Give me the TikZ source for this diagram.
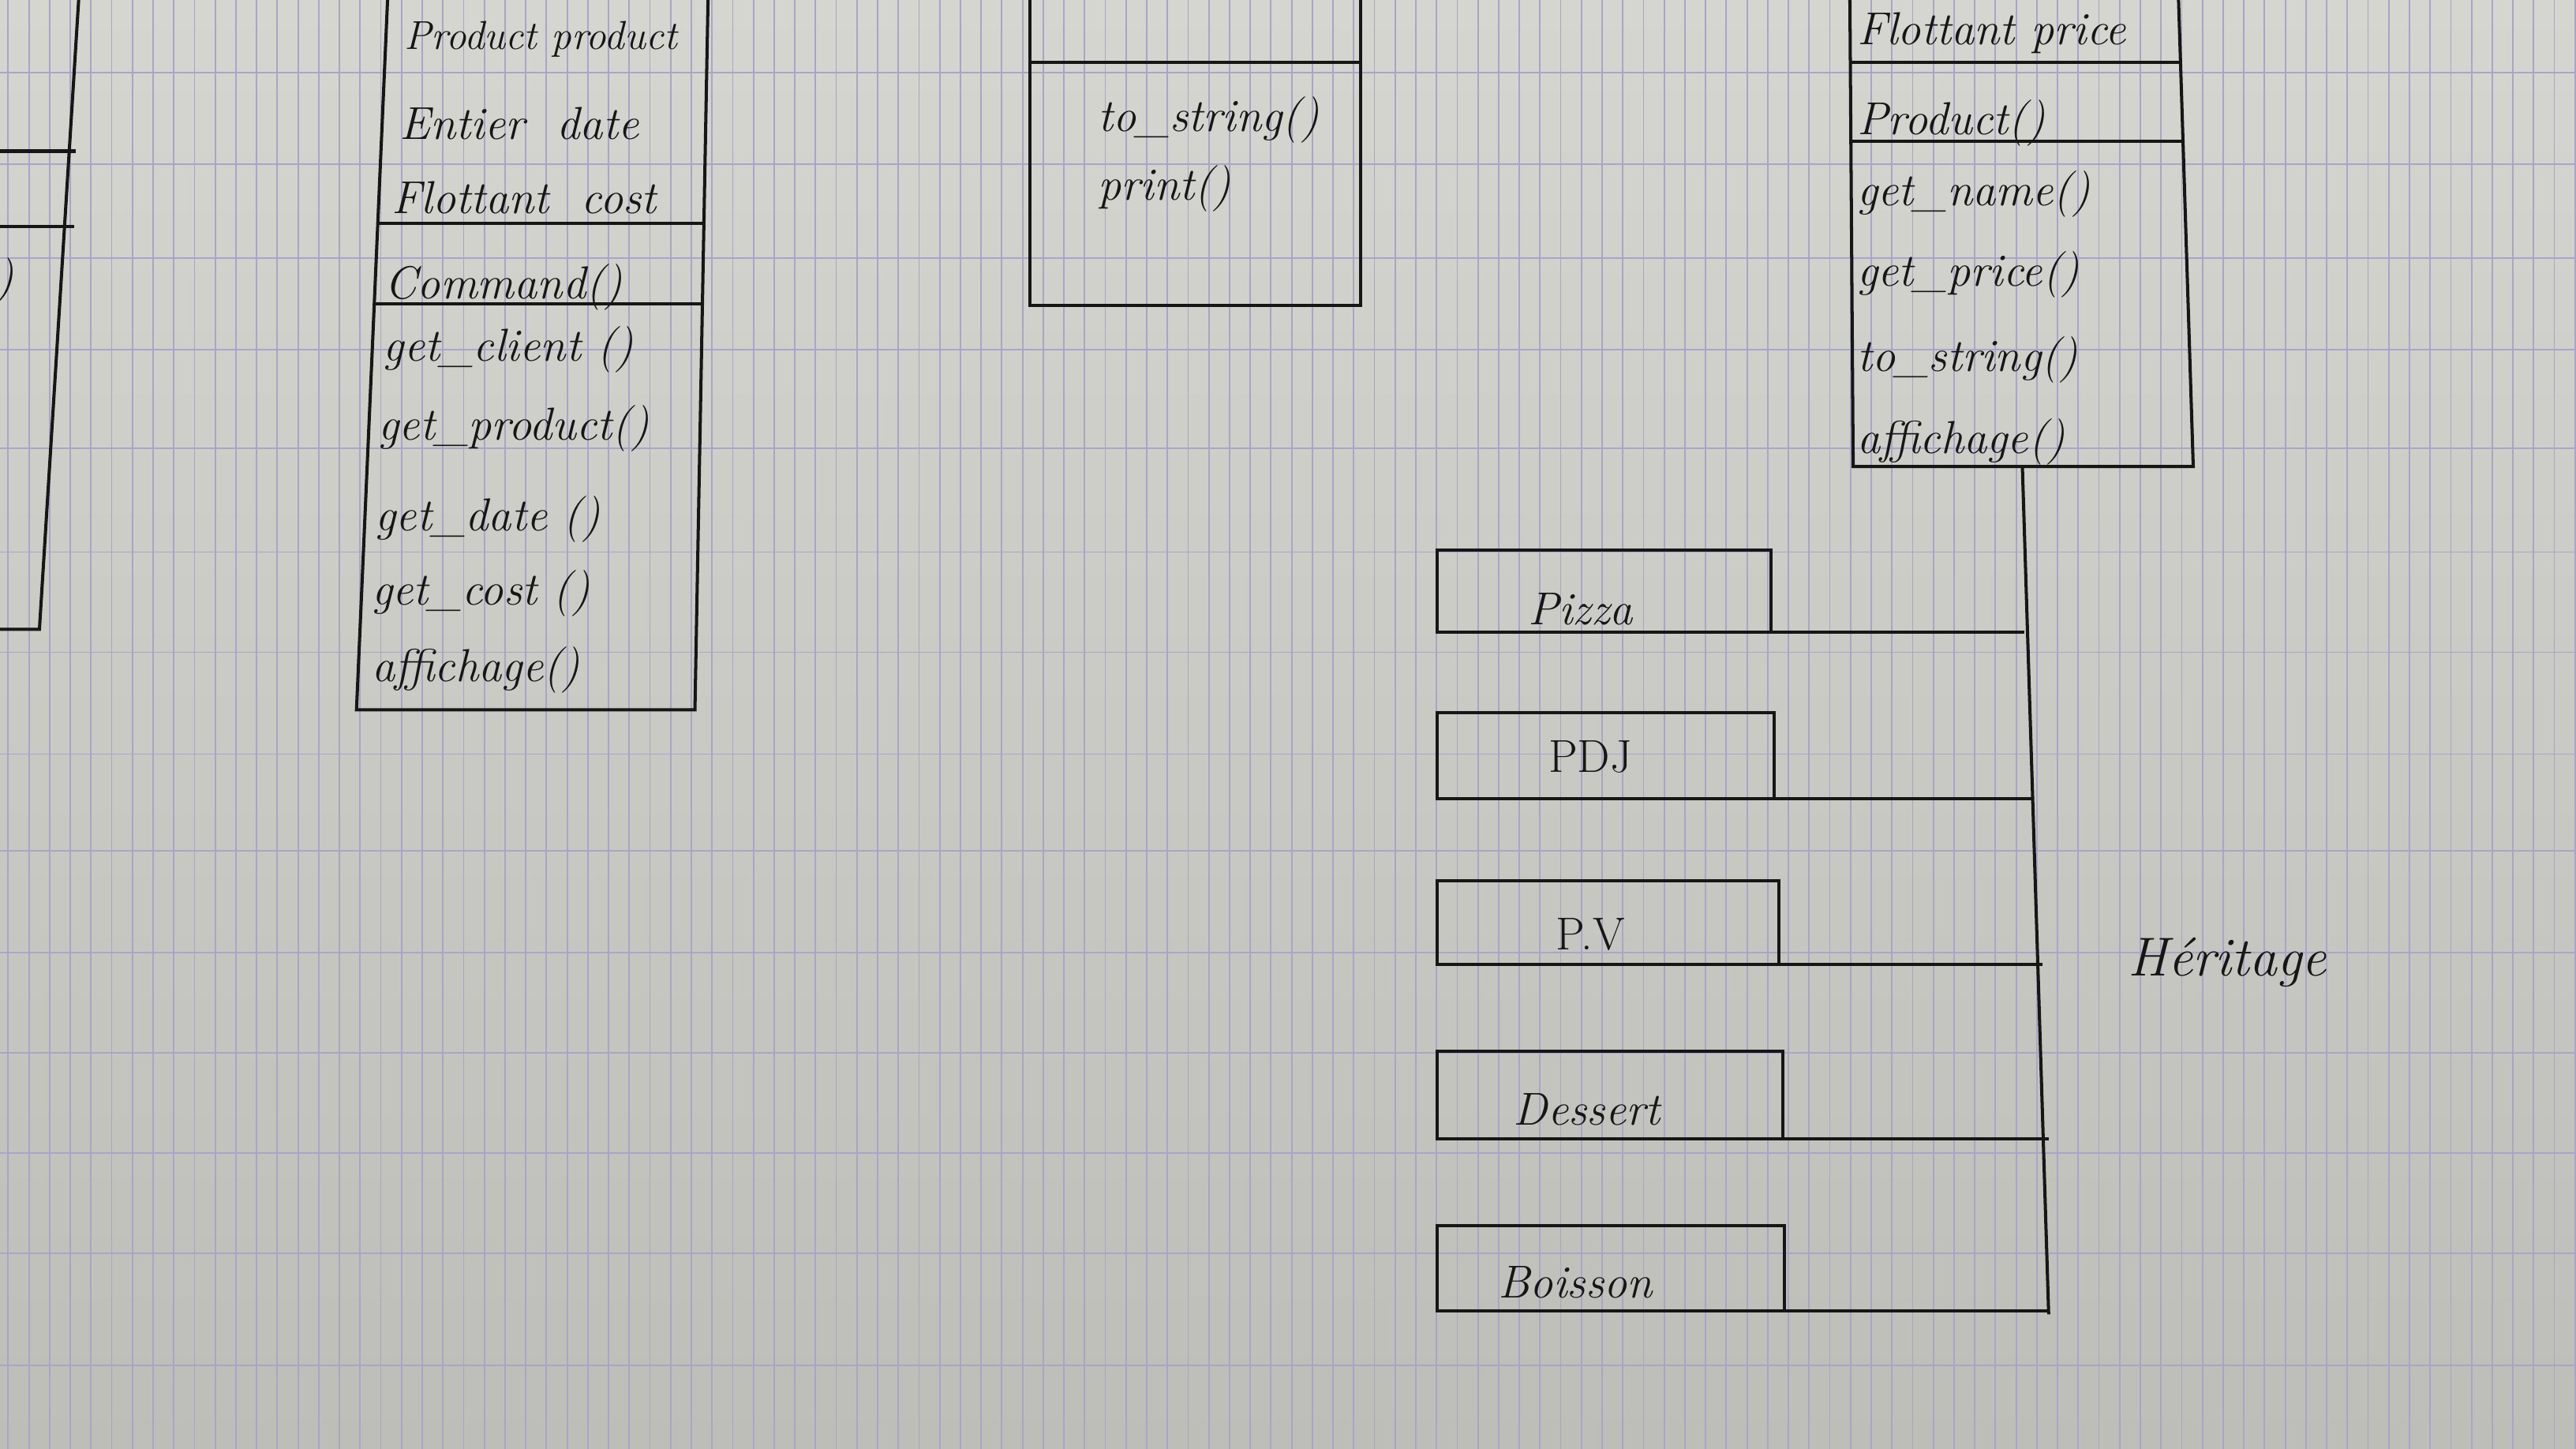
\documentclass[tikz,border=0pt]{standalone}
\usetikzlibrary{calc}
\definecolor{paper}{RGB}{212,214,207}
\definecolor{paperdark}{RGB}{188,190,183}
\definecolor{ruling}{RGB}{168,165,198}
\definecolor{ink}{RGB}{22,22,22}
\tikzset{
  ink/.style={draw=ink,line width=1.1pt},
  ruling line/.style={draw=ruling,line width=0.5pt},
  member/.style={anchor=base west,inner sep=0pt},
  tag/.style={anchor=base,inner sep=0pt}
}
\begin{document}
\begin{tikzpicture}[x=0.02cm,y=-0.02cm,font=\fontsize{16}{19}\selectfont\itshape,text=ink]
  \useasboundingbox (0,0) rectangle (1568,882);
  \shade[top color=paper,bottom color=paperdark] (0,0) rectangle (1568,882);
  % squared paper
  \foreach \x in {5,17.6,...,1568} \draw[ruling line] (\x,0) -- (\x,882);
  \foreach \y in {44,100,157,213,273,336,397,459,518,580,641,702,763,831}
    \draw[ruling line] (0,\y) -- (1568,\y);
  % class cut by the left edge
  \draw[ink] (48,-2) -- (24,383) -- (-2,383);
  \draw[ink] (-2,92) -- (46,92) (-2,138) -- (45,138);
  \node[member] (leftcut) at (-3,178) {)};
  % Command
  \draw[ink] (236,-2) -- (217,432) -- (423,432) -- (431,-2);
  \draw[ink] (230,136) -- (429,136) (228,185) -- (428,185);
  \foreach \t/\x/\y [count=\i] in {{\fontsize{14}{17}\selectfont Product product}/246/30,
      Entier\ \ date/243/85,Flottant\ \ cost/238/130,Command()/234/182,
      get\_client ()/233/220,get\_product()/230/268,get\_date ()/228/323,
      get\_cost ()/226/368,affichage()/226/415}
    \node[member] (cmd\i) at (\x,\y) {\t};
  % middle class
  \draw[ink] (627,-2) -- (627,186) -- (828,186) -- (828,-2);
  \draw[ink] (627,38) -- (828,38);
  \node[member] (mid1) at (668,80) {to\_string()};
  \node[member] (mid2) at (668,122) {print()};
  % Product
  \draw[ink] (1126,-2) -- (1128,284) -- (1335,284) -- (1326,-2);
  \draw[ink] (1126,38) -- (1327,38) (1127,86) -- (1329,86);
  \foreach \t/\y [count=\i] in {Flottant price/27,Product()/82,get\_name()/125,
      get\_price()/174,to\_string()/226,affichage()/276}
    \node[member] (prod\i) at (1130,\y) {\t};
  \coordinate (root) at (1231,284);
  \coordinate (trunk-end) at (1247,800);
  \draw[ink] (root) -- (trunk-end);
  % subclasses
  \foreach \n/\t/\top/\bot/\r/\tx/\ty in {pizza/Pizza/335/385/1078/962/380,
      pdj/\upshape PDJ/434/486/1080/968/470,pv/\upshape P.V/536/587/1083/968/578,
      dessert/Dessert/640/693/1085/966/685,boisson/Boisson/746/798/1086/959/790}{
    \coordinate (\n-nw) at (875,\top);
    \coordinate (\n-se) at (\r,\bot);
    \draw[ink] (\n-nw) rectangle (\n-se);
    \node[tag] (\n-name) at (\tx,\ty) {\t};
  }
  \foreach \n/\x in {pizza/1232,pdj/1238,pv/1243,dessert/1247,boisson/1247}
    \draw[ink] (\n-se) -- (\x,0 |- \n-se);
  \node[member,font=\fontsize{19}{22}\selectfont\itshape] (heritage) at (1295,594) {Héritage};
\end{tikzpicture}
\end{document}
